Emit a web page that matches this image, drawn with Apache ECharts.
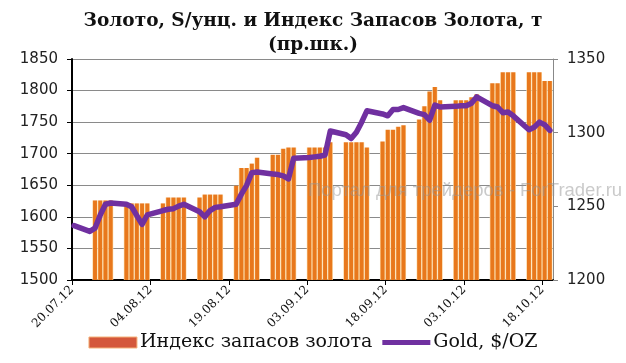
<!DOCTYPE html>
<html><head><meta charset="utf-8">
<script src="https://cdn.jsdelivr.net/npm/echarts@6/dist/echarts.min.js"></script>
<style>html,body{margin:0;padding:0;background:#fff}#c{width:626px;height:363px}</style>
</head><body><div id="c"></div>
<script>
// Gold price, $/oz (left axis)
const lineDates = ['20.07.12','23.07.12','24.07.12','25.07.12','26.07.12','27.07.12',
 '30.07.12','31.07.12','01.08.12','02.08.12','03.08.12',
 '06.08.12','07.08.12','08.08.12','09.08.12','10.08.12',
 '13.08.12','14.08.12','15.08.12','16.08.12','17.08.12',
 '20.08.12','21.08.12','22.08.12','23.08.12','24.08.12',
 '27.08.12','28.08.12','29.08.12','30.08.12','31.08.12',
 '03.09.12','04.09.12','05.09.12','06.09.12','07.09.12',
 '10.09.12','11.09.12','12.09.12','13.09.12','14.09.12',
 '17.09.12','18.09.12','19.09.12','20.09.12','21.09.12',
 '24.09.12','25.09.12','26.09.12','27.09.12','28.09.12',
 '01.10.12','02.10.12','03.10.12','04.10.12','05.10.12',
 '08.10.12','09.10.12','10.10.12','11.10.12','12.10.12',
 '15.10.12','16.10.12','17.10.12','18.10.12','19.10.12'];
const goldPrice = [1586,1577,1582,1603,1620,1622,
 1620,1616,1602,1588,1603,
 1610,1612,1613,1617,1620,
 1608,1600,1610,1615,1616,
 1620,1636,1650,1670,1671,
 1668,1667,1665,1660,1693,
 1694,1695,1696,1698,1736,
 1730,1724,1734,1750,1768,
 1763,1760,1770,1770,1773,
 1764,1762,1753,1777,1774,
 1775,1776,1776,1780,1790,
 1776,1774,1765,1766,1760,
 1738,1742,1750,1746,1737];

// Gold stock index, t (right axis)
const barDates = ['24.07.12','25.07.12','26.07.12','27.07.12',
 '30.07.12','31.07.12','01.08.12','02.08.12','03.08.12',
 '06.08.12','07.08.12','08.08.12','09.08.12','10.08.12',
 '13.08.12','14.08.12','15.08.12','16.08.12','17.08.12',
 '20.08.12','21.08.12','22.08.12','23.08.12','24.08.12',
 '27.08.12','28.08.12','29.08.12','30.08.12','31.08.12',
 '03.09.12','04.09.12','05.09.12','06.09.12','07.09.12',
 '10.09.12','11.09.12','12.09.12','13.09.12','14.09.12',
 '17.09.12','18.09.12','19.09.12','20.09.12','21.09.12',
 '24.09.12','25.09.12','26.09.12','27.09.12','28.09.12',
 '01.10.12','02.10.12','03.10.12','04.10.12','05.10.12',
 '08.10.12','09.10.12','10.10.12','11.10.12','12.10.12',
 '15.10.12','16.10.12','17.10.12','18.10.12','19.10.12'];
const goldStock = [1254,1254,1254,1254,
 1252,1252,1252,1252,1252,
 1252,1256,1256,1256,1256,
 1256,1258,1258,1258,1258,
 1264,1276,1276,1279,1283,
 1285,1285,1289,1290,1290,
 1290,1290,1290,1290,1293.5,
 1293.5,1293.5,1293.5,1293.5,1290,
 1294,1302,1302,1304,1305,
 1309,1318,1328,1331,1322,
 1322,1322,1322,1324,1326,
 1333.5,1333.5,1341,1341,1341,
 1341,1341,1341,1335,1335];

const xTickLabels = ['20.07.12','04.08.12','19.08.12','03.09.12','18.09.12','03.10.12','18.10.12'];

const BASE = Date.UTC(2012, 6, 20);
function dayOf(s) {
  const p = s.split('.');
  return (Date.UTC(2000 + (+p[2]), +p[1] - 1, +p[0]) - BASE) / 86400000 + 0.4;
}

const chart = echarts.init(document.getElementById('c'), null, {renderer: 'canvas'});
chart.setOption({
  animation: false,
  backgroundColor: '#fff',
  title: {
    text: 'Золото, S/унц. и Индекс Запасов Золота, т\n(пр.шк.)',
    left: 'center', top: 4,
    textStyle: {fontFamily: 'DejaVu Serif', fontWeight: 'bold', fontSize: 18.5, lineHeight: 24, color: '#111'}
  },
  grid: {left: 72, right: 73, top: 59, bottom: 83},
  legend: {
    left: 'center', top: 328, itemWidth: 48, itemHeight: 11, itemGap: 10,
    textStyle: {fontFamily: 'DejaVu Serif', fontSize: 19, color: '#111', padding: [0, 0, 0, -2]},
    data: [
      {name: 'Индекс запасов золота', icon: 'rect', itemStyle: {color: '#D4573B', borderColor: '#F5B27A', borderWidth: 1}},
      {name: 'Gold, $/OZ', icon: 'path://M0,0h48v5h-48z', itemStyle: {color: '#7030A0'}}
    ]
  },
  xAxis: {
    type: 'value', min: 0, max: 92, interval: 15,
    axisLine: {lineStyle: {color: '#000', width: 2}},
    axisTick: {show: true, length: 5, lineStyle: {color: '#000', width: 1}},
    splitLine: {show: false},
    axisLabel: {
      rotate: 45, margin: 8, fontFamily: 'DejaVu Serif', fontSize: 12, color: '#111',
      showMaxLabel: false,
      formatter: v => (v % 15 === 0 && xTickLabels[v / 15]) ? xTickLabels[v / 15] : ''
    }
  },
  yAxis: [
    {
      type: 'value', min: 1500, max: 1850, interval: 50, position: 'left',
      axisLine: {show: true, lineStyle: {color: '#000', width: 2}},
      axisTick: {show: true, length: 5, lineStyle: {color: '#000'}},
      splitLine: {show: true, lineStyle: {color: '#8a8a8a', width: 1}},
      axisLabel: {fontFamily: 'DejaVu Sans', fontSize: 15, color: '#222', margin: 14, formatter: v => String(v)}
    },
    {
      type: 'value', min: 1200, max: 1350, interval: 50, position: 'right',
      axisLine: {show: true, lineStyle: {color: '#888', width: 1}},
      axisTick: {show: true, length: 5, lineStyle: {color: '#888'}},
      splitLine: {show: false},
      axisLabel: {fontFamily: 'DejaVu Sans', fontSize: 15, color: '#222', margin: 14, formatter: v => String(v)}
    }
  ],
  series: [
    {
      name: 'Индекс запасов золота', type: 'bar', yAxisIndex: 1, barWidth: 5.2, z: 2,
      itemStyle: {
        color: new echarts.graphic.LinearGradient(0, 0, 1, 0, [
          {offset: 0, color: '#FCE0AE'}, {offset: 0.22, color: '#E8781C'},
          {offset: 0.78, color: '#E8781C'}, {offset: 1, color: '#FCE0AE'}
        ])
      },
      data: barDates.map((d, i) => [dayOf(d), goldStock[i]])
    },
    {
      name: 'Gold, $/OZ', type: 'line', yAxisIndex: 0, symbol: 'none', z: 5,
      lineStyle: {color: '#7030A0', width: 5.5, cap: 'round', join: 'round'},
      itemStyle: {color: '#7030A0'},
      data: lineDates.map((d, i) => [dayOf(d), goldPrice[i]])
    }
  ],
  graphic: [{
    type: 'text', left: 308, top: 181, z: 100, silent: true,
    style: {text: 'Портал для трейдеров - ForTrader.ru', font: '18.5px "Liberation Sans"', fill: 'rgba(150,150,150,0.5)'}
  }]
});
</script></body></html>
